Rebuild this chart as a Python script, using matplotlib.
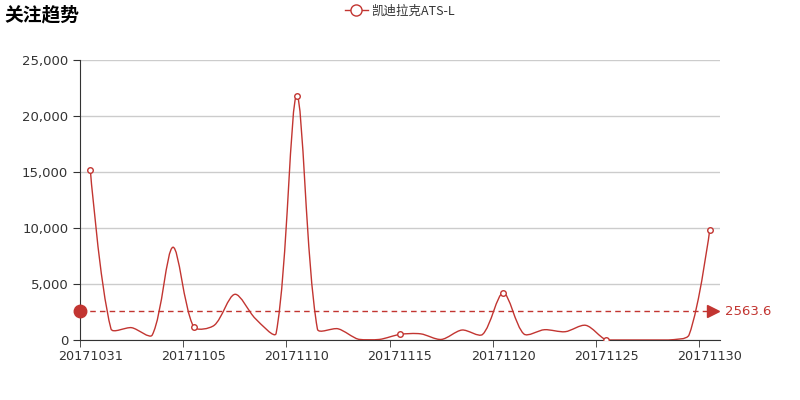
import matplotlib
matplotlib.use('Agg')
import matplotlib.pyplot as plt
import numpy as np
from matplotlib.path import Path
from matplotlib.patches import PathPatch
from matplotlib.ticker import FuncFormatter, MultipleLocator
from matplotlib.lines import Line2D

plt.rcParams['font.family'] = ['DejaVu Sans', 'Noto Sans CJK SC']

# 데이터
dates = ['20171031', '20171101', '20171102', '20171103', '20171104', '20171105',
         '20171106', '20171107', '20171108', '20171109', '20171110', '20171111',
         '20171112', '20171113', '20171114', '20171115', '20171116', '20171117',
         '20171118', '20171119', '20171120', '20171121', '20171122', '20171123',
         '20171124', '20171125', '20171126', '20171127', '20171128', '20171129',
         '20171130']
values = [15200, 1000, 1100, 450, 8280, 1190, 1310, 4080, 1900, 600, 21822, 980,
          1000, 60, 50, 500, 550, 50, 890, 500, 4200, 540, 920, 740, 1310, 0,
          0, 0, 0, 450, 9800]
series_name = '凯迪拉克ATS-L'
title = '关注趋势'

color = '#c23531'
fig = plt.figure(figsize=(8, 4), dpi=100)
ax = fig.add_axes([0.1, 0.15, 0.8, 0.7])
ax.set_xlim(-0.5, len(dates) - 0.5)
ax.set_ylim(0, 25000)

# 부드러운 곡선 (ECharts 방식의 베지어 보간, 픽셀 단위로 계산)
sx, sy = 640 / len(dates), 280 / 25000
pts = np.array([[i * sx, v * sy] for i, v in enumerate(values)])
lo, hi = pts[:, 1].min(), pts[:, 1].max()
smooth = 0.3
verts = [pts[0]]
codes = [Path.MOVETO]
cps = []
n = len(pts)
for i in range(n):
    p = pts[i]
    if i == 0 or i == n - 1:
        cps.append((p.copy(), p.copy()))
        continue
    prev, nxt = pts[i - 1], pts[i + 1]
    v = (nxt - prev) * smooth
    d0 = np.hypot(*(p - prev))
    d1 = np.hypot(*(p - nxt))
    s = d0 + d1
    if s > 0:
        d0, d1 = d0 / s, d1 / s
    c0 = p - v * d0
    c1 = p + v * d1
    c0[1] = min(max(c0[1], lo), hi)
    c1[1] = min(max(c1[1], lo), hi)
    cps.append((c0, c1))
for i in range(n - 1):
    verts += [cps[i][1], cps[i + 1][0], pts[i + 1]]
    codes += [Path.CURVE4] * 3
verts = [(x / sx, y / sy) for x, y in verts]
ax.add_patch(PathPatch(Path(verts, codes), fill=False, edgecolor=color, lw=1, zorder=3))

idx = list(range(0, len(dates), 5))
ax.plot(idx, [values[i] for i in idx], 'o', ms=4, mfc='white', mec=color, mew=1, zorder=4)

# 평균선
avg = float(np.mean(values))
ax.plot([-0.5, 30.2], [avg, avg], '--', color=color, lw=1, dashes=(4, 3), zorder=3, clip_on=False)
ax.plot([-0.5], [avg], 'o', color=color, ms=9, clip_on=False, zorder=5)
ax.plot([30.15], [avg], '>', color=color, ms=9, clip_on=False, zorder=5)
ax.text(30.5 + 5 / sx, avg, '%.1f' % avg, color=color, fontsize=9.5, va='center', ha='left')

# 축
ax.yaxis.set_major_locator(MultipleLocator(5000))
ax.yaxis.set_major_formatter(FuncFormatter(lambda v, p: '{:,.0f}'.format(v)))
ax.grid(axis='y', color='#cccccc', lw=1)
ax.set_axisbelow(True)
ax.set_xticks(idx)
ax.set_xticklabels([dates[i] for i in idx])
ax.set_xticks([i - 0.5 for i in idx], minor=True)
ax.tick_params(axis='x', which='major', length=0, pad=7, labelsize=9.2, labelcolor='#333333')
ax.tick_params(axis='x', which='minor', length=5, color='#333333')
ax.tick_params(axis='y', length=5, color='#333333', labelsize=9.5, labelcolor='#333333')
for s in ['top', 'right']:
    ax.spines[s].set_visible(False)
for s in ['left', 'bottom']:
    ax.spines[s].set_color('#333333')

fig.text(0.006, 0.962, title, fontsize=13.5, fontweight='bold', va='center', ha='left',
         family=['Noto Sans CJK SC', 'DejaVu Sans'])
handle = Line2D([], [], color=color, lw=1, marker='o', ms=8, mfc='white', mec=color)
fig.legend([handle], [series_name], loc='center', bbox_to_anchor=(0.5, 0.972), frameon=False,
           prop={'family': ['Noto Sans CJK SC', 'DejaVu Sans'], 'size': 9},
           handlelength=1.8, handletextpad=0.3, labelcolor='#333333')

plt.savefig('out.png', dpi=100)
